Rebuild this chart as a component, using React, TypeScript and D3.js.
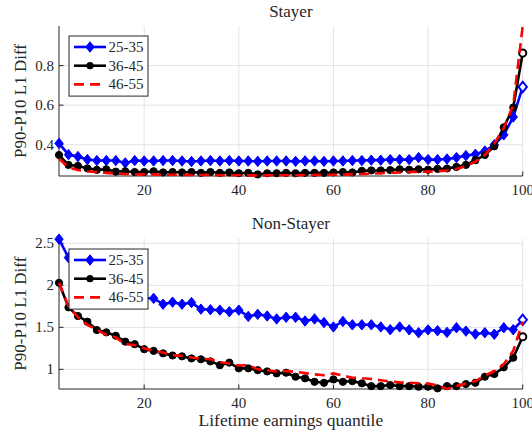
import React from "react";
import * as d3 from "d3";

const quantiles: number[] = d3.range(2, 101, 2);
const seriesNames = ["25-35", "36-45", "46-55"];

const stayer2535 = [0.407,0.350,0.340,0.325,0.320,0.320,0.320,0.308,0.320,0.318,0.318,0.320,0.320,0.318,0.315,0.318,0.320,0.318,0.320,0.318,0.318,0.316,0.318,0.318,0.318,0.316,0.318,0.318,0.316,0.318,0.318,0.320,0.320,0.322,0.322,0.325,0.325,0.325,0.335,0.325,0.325,0.328,0.335,0.345,0.352,0.368,0.400,0.450,0.540,0.692];
const stayer3645 = [0.348,0.298,0.293,0.281,0.273,0.276,0.264,0.266,0.262,0.262,0.266,0.260,0.262,0.260,0.262,0.258,0.262,0.258,0.260,0.256,0.258,0.250,0.256,0.256,0.258,0.256,0.258,0.258,0.258,0.260,0.262,0.260,0.268,0.270,0.270,0.272,0.276,0.274,0.276,0.274,0.278,0.280,0.288,0.298,0.322,0.348,0.392,0.488,0.588,0.863];
const stayer4655 = [0.330,0.285,0.272,0.265,0.262,0.258,0.254,0.252,0.250,0.250,0.250,0.248,0.248,0.248,0.247,0.247,0.247,0.246,0.246,0.246,0.245,0.245,0.245,0.246,0.246,0.246,0.247,0.247,0.248,0.248,0.249,0.250,0.252,0.254,0.256,0.258,0.260,0.262,0.263,0.264,0.266,0.270,0.278,0.292,0.315,0.348,0.405,0.485,0.600,1.000];

const nonStayer2535 = [2.55,2.33,2.20,2.10,2.03,1.98,1.94,1.90,1.87,1.85,1.845,1.775,1.80,1.775,1.795,1.717,1.71,1.705,1.686,1.705,1.63,1.655,1.635,1.60,1.62,1.62,1.575,1.60,1.557,1.505,1.57,1.53,1.53,1.53,1.505,1.472,1.505,1.47,1.436,1.47,1.46,1.44,1.495,1.455,1.42,1.436,1.418,1.495,1.472,1.59];
const nonStayer3645 = [2.03,1.738,1.635,1.567,1.468,1.44,1.40,1.33,1.30,1.24,1.22,1.19,1.165,1.155,1.13,1.12,1.095,1.05,1.08,1.012,1.012,0.99,0.975,0.952,0.96,0.912,0.893,0.852,0.84,0.88,0.852,0.86,0.833,0.80,0.80,0.813,0.80,0.80,0.793,0.793,0.774,0.80,0.80,0.825,0.84,0.912,0.944,1.024,1.138,1.388];
const nonStayer4655 = [2.03,1.75,1.62,1.53,1.47,1.41,1.38,1.30,1.29,1.25,1.22,1.20,1.17,1.16,1.14,1.125,1.12,1.085,1.07,1.045,1.05,1.00,0.99,0.975,0.98,0.97,0.955,0.94,0.93,0.952,0.925,0.90,0.895,0.885,0.87,0.855,0.845,0.84,0.835,0.83,0.81,0.766,0.80,0.83,0.86,0.925,0.98,1.06,1.22,1.57];

const xTicks = [20, 40, 60, 80, 100];
const stayerYTicks = [0.4, 0.6, 0.8];
const nonStayerYTicks = [1, 1.5, 2, 2.5];
const stayerYDomain = [0.242, 1.0];
const nonStayerYDomain = [0.766, 2.56];
const xDomain = [2, 100];

const FONT = '"Liberation Serif"';
const TXT = "#262626";
const AX = "#262626";
const GRID = "#e3e3e3";
const BLUE = "#0000ff";

type PanelProps = {
  title: string;
  top: number;
  bottom: number;
  yDomain: number[];
  yTicks: number[];
  series: number[][];
  legendTop: number;
};

const LEFT = 59;
const RIGHT = 522.7;

function diamondPath(cx: number, cy: number, w = 4.2, h = 5.2) {
  return `M${cx},${cy - h}L${cx + w},${cy}L${cx},${cy + h}L${cx - w},${cy}Z`;
}

function Panel({ title, top, bottom, yDomain, yTicks, series, legendTop }: PanelProps) {
  const x = d3.scaleLinear().domain(xDomain).range([LEFT, RIGHT]);
  const y = d3.scaleLinear().domain(yDomain).range([bottom, top]);
  const line = d3
    .line<number>()
    .x((_, i) => x(quantiles[i]))
    .y((d) => y(d));
  const [blue, black, red] = series;
  const last = quantiles.length - 1;
  const midX = (LEFT + RIGHT) / 2;
  const midY = (top + bottom) / 2;
  const rowH = 18.7;
  const legL = 69;
  const legR = 148;
  return (
    <g>
      {xTicks.map((t) => (
        <line key={"gx" + t} x1={x(t)} x2={x(t)} y1={top} y2={bottom} stroke={GRID} strokeWidth={1} />
      ))}
      {yTicks.map((t) => (
        <line key={"gy" + t} x1={LEFT} x2={RIGHT} y1={y(t)} y2={y(t)} stroke={GRID} strokeWidth={1} />
      ))}
      <line x1={LEFT} x2={LEFT} y1={top} y2={bottom} stroke={AX} strokeWidth={1} />
      <line x1={LEFT} x2={RIGHT} y1={bottom} y2={bottom} stroke={AX} strokeWidth={1} />
      {xTicks.map((t) => (
        <g key={"xt" + t}>
          <line x1={x(t)} x2={x(t)} y1={bottom} y2={bottom - 4.5} stroke={AX} strokeWidth={1} />
          <text x={x(t)} y={bottom + 19} textAnchor="middle" style={{ fontFamily: FONT }} fontSize={15} fill={TXT}>
            {t}
          </text>
        </g>
      ))}
      {yTicks.map((t) => (
        <g key={"yt" + t}>
          <line x1={LEFT} x2={LEFT + 4.5} y1={y(t)} y2={y(t)} stroke={AX} strokeWidth={1} />
          <text x={LEFT - 5} y={y(t) + 5} textAnchor="end" style={{ fontFamily: FONT }} fontSize={15} fill={TXT}>
            {String(t)}
          </text>
        </g>
      ))}
      <path d={line(blue) || ""} fill="none" stroke={BLUE} strokeWidth={2.6} strokeLinejoin="round" />
      {blue.map((v, i) => (
        <path
          key={"b" + i}
          d={diamondPath(x(quantiles[i]), y(v))}
          fill={i === last ? "#fff" : BLUE}
          stroke={BLUE}
          strokeWidth={i === last ? 2 : 1}
        />
      ))}
      <path d={line(black) || ""} fill="none" stroke="#000" strokeWidth={2.6} strokeLinejoin="round" />
      {black.map((v, i) => (
        <circle
          key={"k" + i}
          cx={x(quantiles[i])}
          cy={y(v)}
          r={3.6}
          fill={i === last ? "#fff" : "#000"}
          stroke="#000"
          strokeWidth={i === last ? 2 : 1}
        />
      ))}
      <path d={line(red) || ""} fill="none" stroke="#ff0000" strokeWidth={2.6} strokeDasharray="10,6" />
      <text x={midX} y={top - 9} textAnchor="middle" style={{ fontFamily: FONT }} fontSize={17} fill={TXT}>
        {title}
      </text>
      <text
        transform={`translate(26,${midY}) rotate(-90)`}
        textAnchor="middle"
        style={{ fontFamily: FONT }}
        fontSize={17}
        fill={TXT}
      >
        P90-P10 L1 Diff
      </text>
      <rect x={legL} y={legendTop} width={legR - legL} height={rowH * 3 + 4} fill="#fff" stroke={AX} strokeWidth={1} />
      {seriesNames.map((name, i) => {
        const cy = legendTop + 11 + i * rowH;
        return (
          <g key={"l" + i}>
            {i === 0 && (
              <>
                <line x1={74} x2={106} y1={cy} y2={cy} stroke={BLUE} strokeWidth={2.6} />
                <path d={diamondPath(90, cy)} fill={BLUE} stroke={BLUE} strokeWidth={1} />
              </>
            )}
            {i === 1 && (
              <>
                <line x1={74} x2={106} y1={cy} y2={cy} stroke="#000" strokeWidth={2.6} />
                <circle cx={90} cy={cy} r={3.6} fill="#000" />
              </>
            )}
            {i === 2 && (
              <line x1={74} x2={106} y1={cy} y2={cy} stroke="#ff0000" strokeWidth={2.6} strokeDasharray="10,6" />
            )}
            <text x={108.5} y={cy + 5} style={{ fontFamily: FONT }} fontSize={15} fill={TXT}>
              {name}
            </text>
          </g>
        );
      })}
    </g>
  );
}

export default function App() {
  return (
    <svg
      width={532}
      height={434}
      viewBox="0 0 532 434"
      style={{ position: "absolute", left: 0, top: 0, background: "#fff" }}
    >
      <rect width={532} height={434} fill="#fff" />
      <Panel
        title="Stayer"
        top={26}
        bottom={176}
        yDomain={stayerYDomain}
        yTicks={stayerYTicks}
        series={[stayer2535, stayer3645, stayer4655]}
        legendTop={36}
      />
      <Panel
        title="Non-Stayer"
        top={238.3}
        bottom={389}
        yDomain={nonStayerYDomain}
        yTicks={nonStayerYTicks}
        series={[nonStayer2535, nonStayer3645, nonStayer4655]}
        legendTop={249}
      />
      <text x={(LEFT + RIGHT) / 2} y={426} textAnchor="middle" style={{ fontFamily: FONT }} fontSize={17.5} fill={TXT}>
        Lifetime earnings quantile
      </text>
    </svg>
  );
}
